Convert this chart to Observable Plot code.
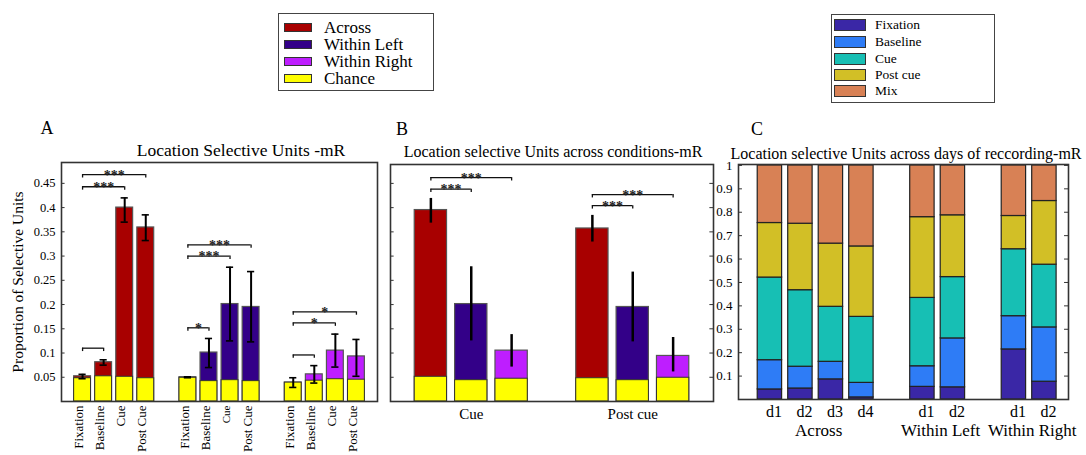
<!DOCTYPE html>
<html>
<head>
<meta charset="utf-8">
<script src="https://cdn.jsdelivr.net/npm/d3@7"></script>
<script src="https://cdn.jsdelivr.net/npm/@observablehq/plot@0.6"></script>
<style>
  body { margin: 0; background: #fff; }
  #root { position: relative; width: 1086px; height: 455px; overflow: hidden; background: #fff;
          font-family: "Liberation Serif", "Times New Roman", serif; color: #000; }
  .abs { position: absolute; white-space: nowrap; }
  .ctr { transform: translate(-50%, -50%); }
  .box { position: absolute; border: 1.5px solid #444; box-sizing: border-box; background: #fff; }
  .sw { position: absolute; box-sizing: border-box; border: 1px solid #333; }
  .lt { position: absolute; white-space: nowrap; transform: translateY(-50%); line-height: 1; }
</style>
</head>
<body>
<div id="root"></div>
<script>
// ---------------- DATA ----------------
// Panel A
const conditionsA = ["Fixation", "Baseline", "Cue", "Post Cue"];
const groupsA = ["Across", "Within Left", "Within Right"];
const acrossValA    = [0.052, 0.081, 0.400, 0.359];
const acrossChanceA = [0.048, 0.052, 0.051, 0.048];
const acrossLoA     = [0.047, 0.075, 0.370, 0.332];
const acrossHiA     = [0.056, 0.086, 0.420, 0.385];
const leftValA      = [0.050, 0.101, 0.201, 0.195];
const leftChanceA   = [0.049, 0.042, 0.044, 0.042];
const leftLoA       = [0.049, 0.070, 0.125, 0.123];
const leftHiA       = [0.051, 0.130, 0.277, 0.268];
const rightValA     = [0.039, 0.056, 0.105, 0.093];
const rightChanceA  = [0.039, 0.043, 0.046, 0.045];
const rightLoA      = [0.029, 0.038, 0.071, 0.052];
const rightHiA      = [0.049, 0.074, 0.139, 0.128];
// significance brackets A (group index, from cond, to cond, height, label)
const bracketGroupA = [0, 0, 0, 1, 1, 1, 2, 2, 2];
const bracketFromA  = [0, 0, 0, 0, 0, 0, 0, 0, 0];
const bracketToA    = [1, 2, 3, 1, 2, 3, 1, 2, 3];
const bracketYA     = [0.110, 0.443, 0.468, 0.152, 0.300, 0.323, 0.096, 0.162, 0.185];
const bracketStarsA = ["", "***", "***", "*", "***", "***", "", "*", "*"];
const yTicksA = [0.05, 0.1, 0.15, 0.2, 0.25, 0.3, 0.35, 0.4, 0.45];

// Panel B
const conditionsB = ["Cue", "Post cue"];
const seriesB = ["Across", "Within Left", "Within Right"];
const acrossValB    = [0.395, 0.357];
const acrossChanceB = [0.051, 0.048];
const acrossLoB     = [0.368, 0.329];
const acrossHiB     = [0.419, 0.384];
const leftValB      = [0.201, 0.195];
const leftChanceB   = [0.044, 0.044];
const leftLoB       = [0.125, 0.123];
const leftHiB       = [0.278, 0.267];
const rightValB     = [0.105, 0.094];
const rightChanceB  = [0.047, 0.049];
const rightLoB      = [0.071, 0.061];
const rightHiB      = [0.138, 0.132];
const bracketCondB  = [0, 0, 1, 1];
const bracketToB    = [1, 2, 1, 2];
const bracketYB     = [0.438, 0.462, 0.404, 0.427];
const bracketStarsB = ["***", "***", "***", "***"];

// Panel C
const stagesC = ["Fixation", "Baseline", "Cue", "Post cue", "Mix"];
const daysC   = ["d1", "d2", "d3", "d4", "d1", "d2", "d1", "d2"];
const groupC  = ["Across", "Across", "Across", "Across", "Within Left", "Within Left", "Within Right", "Within Right"];
const fixationC = [0.043, 0.047, 0.086, 0.009, 0.054, 0.052, 0.214, 0.076];
const baselineC = [0.125, 0.093, 0.075, 0.062, 0.088, 0.209, 0.142, 0.232];
const cueC      = [0.353, 0.327, 0.235, 0.282, 0.292, 0.262, 0.286, 0.268];
const postCueC  = [0.233, 0.284, 0.270, 0.301, 0.345, 0.264, 0.142, 0.272];
const mixC      = [0.246, 0.249, 0.334, 0.346, 0.221, 0.213, 0.216, 0.152];
const yTicksC = [0.1, 0.2, 0.3, 0.4, 0.5, 0.6, 0.7, 0.8, 0.9, 1];

// ---------------- STYLE ----------------
const serif = '"Liberation Serif", "Times New Roman", serif';
const seriesColor = {"Across": "#a80000", "Within Left": "#330088", "Within Right": "#be1eff"};
const chanceColor = "#ffff00";
const stageColor = {"Fixation": "#3a27a6", "Baseline": "#2e7cf6", "Cue": "#17bfb4", "Post cue": "#d2bf26", "Mix": "#d88155"};
const fmt = d => String(+d.toFixed(2));

const root = document.getElementById("root");
function addText(txt, x, y, size, extra = "") {
  const el = document.createElement("div");
  el.className = "abs ctr";
  el.style.cssText += `left:${x}px;top:${y}px;font-size:${size}px;${extra}`;
  el.textContent = txt;
  root.appendChild(el);
}
function place(svg, left, top) {
  svg.style.position = "absolute";
  svg.style.left = left + "px";
  svg.style.top = top + "px";
  root.appendChild(svg);
}

// ---------------- PANEL A ----------------
const valsA = [acrossValA, leftValA, rightValA];
const chanceA = [acrossChanceA, leftChanceA, rightChanceA];
const loA = [acrossLoA, leftLoA, rightLoA];
const hiA = [acrossHiA, leftHiA, rightHiA];
const stepA = conditionsA.length + 1;
const rowsA = [];
groupsA.forEach((g, gi) => conditionsA.forEach((c, ci) => rowsA.push({
  group: g, cond: c, pos: gi * stepA + ci,
  value: valsA[gi][ci], chance: chanceA[gi][ci], lo: loA[gi][ci], hi: hiA[gi][ci]
})));
const bracketsA = bracketYA.map((y, i) => ({
  x1: bracketGroupA[i] * stepA + bracketFromA[i],
  x2: bracketGroupA[i] * stepA + bracketToA[i],
  y, stars: bracketStarsA[i]
}));
const bracketEndsA = bracketsA.flatMap(b => [{x: b.x1, y: b.y}, {x: b.x2, y: b.y}]);
const xDomA = [-1, groupsA.length * stepA - 1];

const plotA = Plot.plot({
  width: 380, height: 305,
  marginLeft: 61, marginRight: 3, marginTop: 12, marginBottom: 54,
  style: {fontFamily: serif, fontSize: "13px", background: "transparent", overflow: "visible", color: "#000"},
  x: {type: "linear", domain: xDomA, axis: null},
  y: {domain: [0, 0.493]},
  color: {type: "identity"},
  marks: [
    Plot.rectY(rowsA, {x1: d => d.pos - 0.4, x2: d => d.pos + 0.4, y1: 0, y2: "value",
      fill: d => seriesColor[d.group], stroke: "#555", strokeWidth: 1.2}),
    Plot.rectY(rowsA, {x1: d => d.pos - 0.4, x2: d => d.pos + 0.4, y1: 0, y2: "chance",
      fill: chanceColor, stroke: "#333", strokeWidth: 1}),
    Plot.ruleX(rowsA, {x: "pos", y1: "lo", y2: "hi", stroke: "#000", strokeWidth: 2}),
    Plot.ruleY(rowsA, {y: "lo", x1: d => d.pos - 0.17, x2: d => d.pos + 0.17, stroke: "#000", strokeWidth: 1.6}),
    Plot.ruleY(rowsA, {y: "hi", x1: d => d.pos - 0.17, x2: d => d.pos + 0.17, stroke: "#000", strokeWidth: 1.6}),
    Plot.ruleY(bracketsA, {y: "y", x1: "x1", x2: "x2", stroke: "#111", strokeWidth: 1.3}),
    Plot.ruleX(bracketEndsA, {x: "x", y1: "y", y2: d => d.y - 0.007, stroke: "#111", strokeWidth: 1.3}),
    Plot.text(bracketsA.filter(b => b.stars), {x: d => (d.x1 + d.x2) / 2, y: "y", text: "stars",
      fontSize: 14, fontWeight: "bold", lineAnchor: "bottom", dy: 5, fill: "#222"}),
    Plot.ruleY(yTicksA, {y: d => d, x1: xDomA[0], x2: xDomA[0] + 0.17, stroke: "#333"}),
    Plot.frame({stroke: "#333", strokeWidth: 1.6}),
    Plot.axisY({ticks: yTicksA, tickFormat: fmt, tickSize: 0, tickPadding: 6, label: null, fontSize: 12.5}),
    Plot.text(rowsA, {x: "pos", text: "cond", frameAnchor: "bottom", rotate: -90, textAnchor: "end",
      lineAnchor: "middle", dy: 4, dx: -3.5,
      fontSize: d => (d.group === "Within Left" && d.cond === "Cue") ? 11 : 13}),
    Plot.text(["Proportion of Selective Units"], {frameAnchor: "left", rotate: -90, textAnchor: "middle",
      lineAnchor: "middle", dx: -43, fontSize: 15.5})
  ]
});
place(plotA, 0, 150);

// ---------------- PANEL B ----------------
const valsB = [acrossValB, leftValB, rightValB];
const chanceB = [acrossChanceB, leftChanceB, rightChanceB];
const loB = [acrossLoB, leftLoB, rightLoB];
const hiB = [acrossHiB, leftHiB, rightHiB];
const stepB = seriesB.length + 1;
const rowsB = [];
conditionsB.forEach((c, ci) => seriesB.forEach((s, si) => rowsB.push({
  series: s, cond: c, pos: ci * stepB + si + 1,
  value: valsB[si][ci], chance: chanceB[si][ci], lo: loB[si][ci], hi: hiB[si][ci]
})));
const bracketsB = bracketYB.map((y, i) => ({
  x1: bracketCondB[i] * stepB + 1, x2: bracketCondB[i] * stepB + 1 + bracketToB[i], y, stars: bracketStarsB[i]
}));
const bracketEndsB = bracketsB.flatMap(b => [{x: b.x1, y: b.y}, {x: b.x2, y: b.y}]);
const condLabelsB = conditionsB.map((c, ci) => ({cond: c, pos: ci * stepB + 1 + (seriesB.length - 1) / 2}));
const xDomB = [0, conditionsB.length * stepB];

const plotB = Plot.plot({
  width: 350, height: 305,
  marginLeft: 20, marginRight: 7, marginTop: 14, marginBottom: 54,
  style: {fontFamily: serif, fontSize: "13px", background: "transparent", overflow: "visible", color: "#000"},
  x: {type: "linear", domain: xDomB, axis: null},
  y: {domain: [0, 0.489], axis: null},
  color: {type: "identity"},
  marks: [
    Plot.rectY(rowsB, {x1: d => d.pos - 0.4, x2: d => d.pos + 0.4, y1: 0, y2: "value",
      fill: d => seriesColor[d.series], stroke: "#555", strokeWidth: 1.2}),
    Plot.rectY(rowsB, {x1: d => d.pos - 0.4, x2: d => d.pos + 0.4, y1: 0, y2: "chance",
      fill: chanceColor, stroke: "#333", strokeWidth: 1}),
    Plot.ruleX(rowsB, {x: "pos", y1: "lo", y2: "hi", stroke: "#000", strokeWidth: 2.5}),
    Plot.ruleY(bracketsB, {y: "y", x1: "x1", x2: "x2", stroke: "#111", strokeWidth: 1.3}),
    Plot.ruleX(bracketEndsB, {x: "x", y1: "y", y2: d => d.y - 0.007, stroke: "#111", strokeWidth: 1.3}),
    Plot.text(bracketsB, {x: d => (d.x1 + d.x2) / 2, y: "y", text: "stars",
      fontSize: 14, fontWeight: "bold", lineAnchor: "bottom", dy: 5, fill: "#222"}),
    Plot.ruleY(yTicksA, {y: d => d, x1: xDomB[0], x2: xDomB[0] + 0.09, stroke: "#333"}),
    Plot.ruleY(yTicksA, {y: d => d, x1: xDomB[1] - 0.09, x2: xDomB[1], stroke: "#333"}),
    Plot.frame({stroke: "#333", strokeWidth: 1.6}),
    Plot.text(condLabelsB, {x: "pos", text: "cond", frameAnchor: "bottom", lineAnchor: "middle", dy: 13, fontSize: 15})
  ]
});
place(plotB, 370, 150);

// ---------------- PANEL C ----------------
const stageValsC = [fixationC, baselineC, cueC, postCueC, mixC];
const posC = [];
{
  let p = 0;
  groupC.forEach((g, i) => { if (i > 0 && g !== groupC[i - 1]) p += 1; posC.push(p); p += 1; });
}
const rowsC = [];
daysC.forEach((d, i) => {
  let acc = 0;
  stagesC.forEach((s, si) => {
    const v = stageValsC[si][i];
    rowsC.push({day: d, group: groupC[i], stage: s, pos: posC[i], y1: acc, y2: acc + v});
    acc += v;
  });
});
const dayLabelsC = daysC.map((d, i) => ({day: d, pos: posC[i]}));
const groupNamesC = [...new Set(groupC)];
const groupLabelsC = groupNamesC.map(g => ({group: g, pos: d3.mean(posC.filter((p, i) => groupC[i] === g))}));
const xDomC = [-1.03, 9.79];

const plotC = Plot.plot({
  width: 396, height: 305,
  marginLeft: 48, marginRight: 18, marginTop: 14, marginBottom: 56,
  style: {fontFamily: serif, fontSize: "13px", background: "transparent", overflow: "visible", color: "#000"},
  x: {type: "linear", domain: xDomC, axis: null},
  y: {domain: [0, 1.004]},
  color: {type: "identity"},
  marks: [
    Plot.rectY(rowsC, {x1: d => d.pos - 0.4, x2: d => d.pos + 0.4, y1: "y1", y2: "y2",
      fill: d => stageColor[d.stage], stroke: "#222", strokeWidth: 1.2}),
    Plot.ruleY(yTicksC, {y: d => d, x1: xDomC[0], x2: xDomC[0] + 0.13, stroke: "#333"}),
    Plot.ruleY(yTicksC, {y: d => d, x1: xDomC[1] - 0.13, x2: xDomC[1], stroke: "#333"}),
    Plot.frame({stroke: "#333", strokeWidth: 1.6}),
    Plot.axisY({ticks: yTicksC, tickFormat: fmt, tickSize: 0, tickPadding: 6, label: null, fontSize: 13}),
    Plot.text(dayLabelsC, {x: "pos", text: "day", frameAnchor: "bottom", lineAnchor: "middle", dy: 12, dx: 4, fontSize: 16}),
    Plot.text(groupLabelsC, {x: "pos", text: "group", frameAnchor: "bottom", lineAnchor: "middle", dy: 31, dx: 3, fontSize: 17})
  ]
});
place(plotC, 690, 150);

// ---------------- TITLES & PANEL LETTERS ----------------
addText("A", 47, 128, 18);
addText("B", 402, 129, 18);
addText("C", 757, 129, 18);
addText("Location Selective Units -mR", 241, 150, 17.5);
addText("Location selective Units across conditions-mR", 553, 152, 16);
addText("Location selective Units across days of reccording-mR", 906, 154, 16);

// ---------------- LEGENDS ----------------
function legend(items, colors, box, sw, textLeft, rowY, size) {
  const b = document.createElement("div");
  b.className = "box";
  b.style.cssText += `left:${box[0]}px;top:${box[1]}px;width:${box[2]}px;height:${box[3]}px;`;
  root.appendChild(b);
  items.forEach((it, i) => {
    const s = document.createElement("div");
    s.className = "sw";
    s.style.cssText += `left:${sw[0]}px;top:${rowY[i] - sw[3] / 2}px;width:${sw[2]}px;height:${sw[3]}px;background:${colors[i]};`;
    root.appendChild(s);
    const t = document.createElement("div");
    t.className = "lt";
    t.style.cssText += `left:${textLeft}px;top:${rowY[i]}px;font-size:${size}px;`;
    t.textContent = it;
    root.appendChild(t);
  });
}
const legendItems1 = ["Across", "Within Left", "Within Right", "Chance"];
legend(legendItems1, [seriesColor["Across"], seriesColor["Within Left"], seriesColor["Within Right"], chanceColor],
  [278, 13, 156, 78], [284, 0, 28, 9], 324, [27, 44, 61, 78], 17);
legend(stagesC, stagesC.map(s => stageColor[s]),
  [831, 14, 164, 89], [834, 0, 32, 12], 875, [25, 42, 59, 75, 91], 13.5);
</script>
</body>
</html>
